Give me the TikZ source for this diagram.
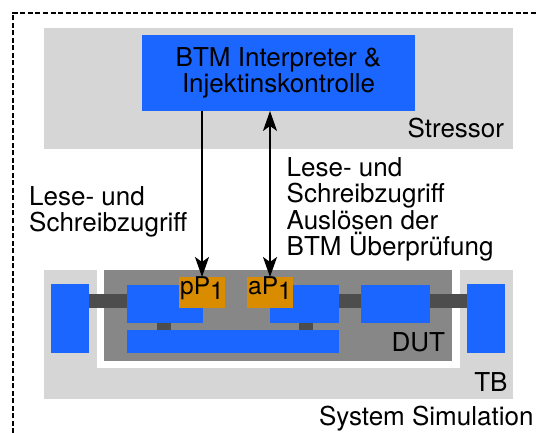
\documentclass[tikz,border=0pt]{standalone}
\usepackage{fontspec}
\setmainfont{TeX Gyre Heros}
\usetikzlibrary{arrows.meta}

\definecolor{hellgrau}{RGB}{214,214,214}
\definecolor{dutgrau}{RGB}{135,135,135}
\definecolor{busgrau}{RGB}{77,77,77}
\definecolor{blockblau}{RGB}{26,102,255}
\definecolor{portorange}{RGB}{217,140,0}

\tikzset{
  block/.style={fill=blockblau, inner sep=0pt},
  port/.style={fill=portorange, inner sep=0pt, minimum width=46pt,
    text height=17pt, text depth=14pt, font=\fontsize{24.5}{24.5}\selectfont},
  label/.style={inner sep=0pt},
  pfeil/.style={line width=2pt},
  >={Stealth[length=20pt,width=14pt,inset=5pt]}
}

\begin{document}
\begin{tikzpicture}[x=1pt,y=-1pt, font=\fontsize{26}{26.5}\selectfont]
        \useasboundingbox (0,0) rectangle (536,433);

        % Rahmen
        \draw[line width=1.8pt, dash pattern=on 5pt off 2.5pt]
            (13.3,433) -- (13.3,12.7) -- (536,12.7);

        % Stressor
        \fill[hellgrau] (44,28) rectangle (513,149);
        \node[block, minimum width=273pt, minimum height=75.7pt, align=center]
            (btm) at (278.5,72.9) {BTM Interpreter \&\\Injektinskontrolle};
        \node[label, anchor=base east] (stressor) at (504.3,137.7) {Stressor};

        % TB und DUT
        \fill[hellgrau] (44,270) rectangle (512.7,398.7);
        \fill[white] (97,270) rectangle (460.3,367.7);
        \fill[dutgrau] (104,270) rectangle (452,360.7);
        \node[label, anchor=base east] (dut) at (445.3,351.7) {DUT};
        \node[label, anchor=base east] (tb) at (507.7,391.7) {TB};
        \node[label, anchor=base east] (sim) at (533.7,425.7) {System Simulation};

        % Busse
        \fill[busgrau] (89,294) rectangle (127,308);
        \fill[busgrau] (339,294) rectangle (361,308);
        \fill[busgrau] (429.7,294) rectangle (467,308);
        \fill[busgrau] (157,322.7) rectangle (171,330);
        \fill[busgrau] (299,322.7) rectangle (313,330);

        % Bloecke
        \fill[blockblau] (51,284) rectangle (89,352.7);
        \fill[blockblau] (467,284) rectangle (504.7,352.7);
        \fill[blockblau] (127,285) rectangle (203,322.7);
        \fill[blockblau] (270,285) rectangle (339,322.7);
        \fill[blockblau] (361,285) rectangle (429.7,322.7);
        \fill[blockblau] (127,330) rectangle (339,352.7);

        % Ports
        \node[port, anchor=north] (pp) at (202,277) {pP\raisebox{-5pt}{1}};
        \node[port, anchor=north] (ap) at (270,277) {aP\raisebox{-5pt}{1}};

        % Zugriffe
        \draw[pfeil, ->] (btm.south -| pp.north) -- (pp.north);
        \draw[pfeil, <->] (btm.south -| ap.north) -- (ap.north);

        % Beschriftung der Pfeile
        \node[label, anchor=north west, align=left] (lesen) at (29,186)
            {Lese- und\\Schreibzugriff};
        \node[label, anchor=north west, align=left] (ausloesen) at (286.5,157.3)
            {Lese- und\\Schreibzugriff\\Auslösen der\\BTM Überprüfung};
    \end{tikzpicture}
\end{document}
